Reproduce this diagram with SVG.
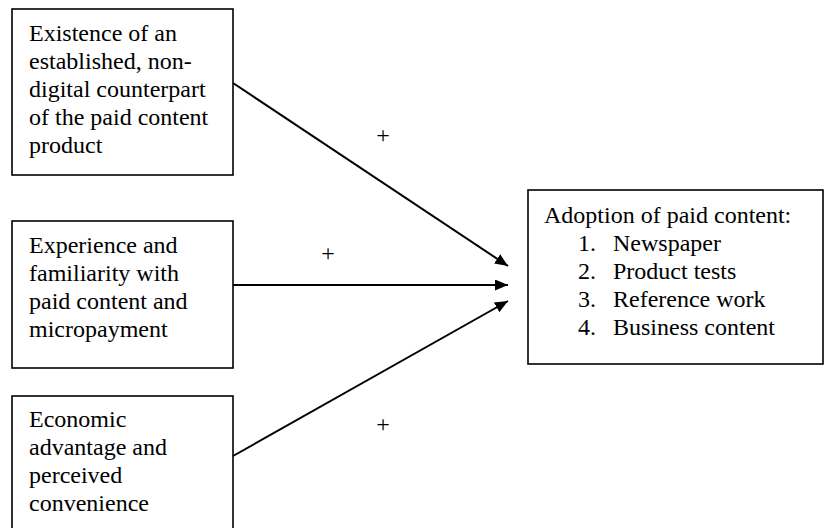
<svg xmlns="http://www.w3.org/2000/svg" width="827" height="528" viewBox="0 0 827 528">
<style>
.box{fill:#fff;stroke:#000;stroke-width:1.6}
.t{font-family:"Liberation Serif","Times New Roman",serif;font-size:24px;fill:#000}
.edge{stroke:#000;stroke-width:2;fill:none}
</style>
<defs>
<marker id="ah" markerUnits="userSpaceOnUse" markerWidth="14" markerHeight="12" refX="13" refY="5.5" orient="auto">
<path d="M0,0 L13,5.5 L0,11 z" fill="#000"/>
</marker>
</defs>
<rect width="827" height="528" fill="#fff"/>
<g id="node-existence">
<rect class="box" x="12" y="9" width="221" height="166"/>
<text class="t" x="29" y="41">Existence of an</text>
<text class="t" x="29" y="69">established, non-</text>
<text class="t" x="29" y="97">digital counterpart</text>
<text class="t" x="29" y="125">of the paid content</text>
<text class="t" x="29" y="153">product</text>
</g>
<g id="node-experience">
<rect class="box" x="12" y="221" width="221" height="147"/>
<text class="t" x="29" y="253">Experience and</text>
<text class="t" x="29" y="281">familiarity with</text>
<text class="t" x="29" y="309">paid content and</text>
<text class="t" x="29" y="337">micropayment</text>
</g>
<g id="node-economic">
<rect class="box" x="12" y="396" width="221" height="140"/>
<text class="t" x="29" y="427">Economic</text>
<text class="t" x="29" y="455">advantage and</text>
<text class="t" x="29" y="483">perceived</text>
<text class="t" x="29" y="511">convenience</text>
</g>
<g id="node-adoption">
<rect class="box" x="528" y="190" width="295" height="174"/>
<text class="t" x="544" y="223">Adoption of paid content:</text>
<text class="t" x="578" y="251">1.</text>
<text class="t" x="613" y="251">Newspaper</text>
<text class="t" x="578" y="279">2.</text>
<text class="t" x="613" y="279">Product tests</text>
<text class="t" x="578" y="307">3.</text>
<text class="t" x="613" y="307">Reference work</text>
<text class="t" x="578" y="335">4.</text>
<text class="t" x="613" y="335">Business content</text>
</g>
<g id="connectors">
<line class="edge" x1="233" y1="83" x2="508" y2="266" marker-end="url(#ah)"/>
<line class="edge" x1="233" y1="285" x2="508" y2="285" marker-end="url(#ah)"/>
<line class="edge" x1="233" y1="456" x2="508" y2="301" marker-end="url(#ah)"/>
<text class="t" x="383" y="143" text-anchor="middle">+</text>
<text class="t" x="328" y="261" text-anchor="middle">+</text>
<text class="t" x="383" y="432" text-anchor="middle">+</text>
</g>
</svg>
